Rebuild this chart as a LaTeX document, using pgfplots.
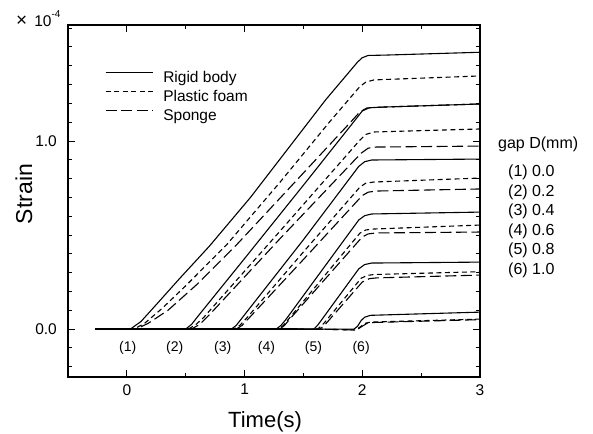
\documentclass[border=0pt]{standalone}
\usepackage{pgfplots}
\pgfplotsset{compat=1.18}
\usepackage{fontspec}
\setmainfont{Liberation Sans}
\tikzset{
  rigid/.style={black, line width=1.1bp, solid},
  foam/.style={black, line width=1.1bp, dash pattern=on 5bp off 3.5bp},
  sponge/.style={black, line width=1.1bp, dash pattern=on 11bp off 4.5bp},
}
\begin{document}
\begin{tikzpicture}
\useasboundingbox (0,0) rectangle (593bp,434bp);
\begin{axis}[
  at={(68bp,57bp)}, anchor=south west,
  scale only axis, width=412bp, height=352bp,
  xmin=-0.5, xmax=3, ymin=-0.255, ymax=1.617,
  xtick={0,1,2,3}, xticklabels={0,1,2,3},
  ytick={0,1}, yticklabels={0.0,1.0},
  minor xtick={0.5,1.5,2.5},
  minor ytick={-0.2,-0.1,0.1,0.2,0.3,0.4,0.5,0.6,0.7,0.8,0.9,1.1,1.2,1.3,1.4,1.5,1.6},
  tick align=inside, tick pos=both,
  major tick length=7bp, minor tick length=4bp,
  every tick/.style={black, line width=1bp},
  axis line style={line width=1.5bp},
  tick label style={font=\fontsize{15.5bp}{18bp}\selectfont, inner sep=0pt},
  xticklabel style={yshift=-7bp},
  yticklabel style={xshift=-11bp},
  legend style={at={(0.0898,0.872)}, anchor=north west, draw=none, fill=none,
    inner sep=0pt, row sep=3bp, column sep=10bp,
    font=\fontsize{15.5bp}{18bp}\selectfont,
    nodes={inner sep=0pt, text height=12bp, text depth=4bp}},
  legend cell align=left,
  legend image code/.code={\draw[#1] (0bp,5.5bp) -- (47bp,5.5bp);},
]
% group 1
\addplot[rigid] coordinates {(-0.27,0)(0.03,0)(0.12,0.04)(0.25,0.13)(0.45,0.27)(0.7,0.44)(1.05,0.70)(1.69,1.22)(1.96,1.42)(2.0,1.443)(2.05,1.455)(2.2,1.457)(3,1.472)};
\addlegendentry{Rigid body}
\addplot[foam] coordinates {(-0.27,0)(0.06,0)(0.15,0.03)(0.3,0.11)(0.5,0.23)(0.85,0.45)(1.3,0.78)(1.72,1.10)(1.98,1.29)(2.03,1.313)(2.1,1.325)(3,1.346)};
\addlegendentry{Plastic foam}
\addplot[sponge] coordinates {(-0.27,0)(0.08,0)(0.18,0.03)(0.35,0.1)(0.6,0.24)(0.92,0.44)(1.5,0.83)(1.9,1.10)(1.98,1.155)(2.04,1.176)(2.15,1.18)(3,1.197)};
\addlegendentry{Sponge}
% group 2
\addplot[rigid, forget plot] coordinates {(-0.27,0)(0.5,0)(0.55,0.025)(0.6,0.065)(1.0,0.375)(1.5,0.765)(1.95,1.12)(2.0,1.16)(2.06,1.177)(2.2,1.181)(3,1.197)};
\addplot[foam, forget plot] coordinates {(-0.27,0)(0.52,0)(0.58,0.02)(0.65,0.06)(1.3,0.52)(1.98,1.005)(2.03,1.035)(2.1,1.048)(3,1.064)};
\addplot[sponge, forget plot] coordinates {(-0.27,0)(0.55,0)(0.62,0.025)(0.7,0.075)(1.3,0.48)(1.99,0.935)(2.05,0.962)(2.12,0.968)(3,0.973)};
% group 3
\addplot[rigid, forget plot] coordinates {(-0.27,0)(0.89,0)(0.93,0.02)(0.98,0.06)(1.5,0.475)(1.97,0.865)(2.02,0.89)(2.08,0.899)(3,0.904)};
\addplot[foam, forget plot] coordinates {(-0.27,0)(0.91,0)(0.96,0.02)(1.02,0.06)(1.5,0.41)(1.98,0.755)(2.03,0.776)(2.1,0.782)(3,0.803)};
\addplot[sponge, forget plot] coordinates {(-0.27,0)(0.93,0)(0.98,0.02)(1.04,0.06)(1.5,0.37)(2.0,0.71)(2.05,0.728)(2.12,0.734)(3,0.745)};
% group 4
\addplot[rigid, forget plot] coordinates {(-0.27,0)(1.27,0)(1.31,0.02)(1.35,0.05)(1.97,0.58)(2.02,0.603)(2.08,0.612)(3,0.622)};
\addplot[foam, forget plot] coordinates {(-0.27,0)(1.29,0)(1.33,0.02)(1.37,0.05)(1.98,0.51)(2.03,0.527)(2.1,0.532)(3,0.553)};
\addplot[sponge, forget plot] coordinates {(-0.27,0)(1.30,0)(1.34,0.02)(1.38,0.05)(2.0,0.49)(2.05,0.506)(2.12,0.511)(3,0.516)};
% group 5
\addplot[rigid, forget plot] coordinates {(-0.27,0)(1.59,0)(1.62,0.02)(1.65,0.045)(1.97,0.32)(2.02,0.343)(2.08,0.351)(3,0.356)};
\addplot[foam, forget plot] coordinates {(-0.27,0)(1.62,0)(1.65,0.015)(1.68,0.035)(1.99,0.27)(2.04,0.285)(2.1,0.29)(3,0.305)};
\addplot[sponge, forget plot] coordinates {(-0.27,0)(1.64,0)(1.67,0.015)(1.70,0.035)(2.0,0.25)(2.06,0.268)(2.12,0.272)(3,0.287)};
% group 6
\addplot[rigid, forget plot] coordinates {(-0.27,0)(1.93,0)(1.96,0.015)(1.99,0.045)(2.02,0.063)(2.07,0.073)(3,0.09)};
\addplot[foam, forget plot] coordinates {(-0.27,0)(1.6,0)(1.94,-0.005)(1.98,0.01)(2.02,0.03)(2.07,0.037)(3,0.053)};
\addplot[sponge, forget plot] coordinates {(-0.27,0)(1.6,0)(1.95,-0.005)(2.0,0.015)(2.04,0.03)(2.1,0.035)(3,0.05)};
% overlapping noisy baselines
\addplot[black, line width=2.8bp, forget plot] coordinates {(-0.27,0)(1.45,0)};
% curve labels
\node[anchor=base, font=\fontsize{14bp}{16bp}\selectfont, inner sep=0pt] at (axis cs:0.008,-0.122) {(1)};
\node[anchor=base, font=\fontsize{14bp}{16bp}\selectfont, inner sep=0pt] at (axis cs:0.407,-0.122) {(2)};
\node[anchor=base, font=\fontsize{14bp}{16bp}\selectfont, inner sep=0pt] at (axis cs:0.814,-0.122) {(3)};
\node[anchor=base, font=\fontsize{14bp}{16bp}\selectfont, inner sep=0pt] at (axis cs:1.186,-0.122) {(4)};
\node[anchor=base, font=\fontsize{14bp}{16bp}\selectfont, inner sep=0pt] at (axis cs:1.585,-0.122) {(5)};
\node[anchor=base, font=\fontsize{14bp}{16bp}\selectfont, inner sep=0pt] at (axis cs:1.99,-0.122) {(6)};
\end{axis}
\node[anchor=base, rotate=90, font=\fontsize{23bp}{26bp}\selectfont, inner sep=0pt] at (32bp,240bp) {Strain};
\node[anchor=base west, font=\fontsize{22bp}{26bp}\selectfont, inner sep=0pt] at (228bp,7bp) {Time(s)};
\node[anchor=base west, font=\fontsize{15.5bp}{18bp}\selectfont, inner sep=0pt] at (16bp,407bp) {{\fontsize{19bp}{20bp}\selectfont ×}\hspace{7bp}10\raisebox{9bp}{\fontsize{10bp}{11bp}\selectfont -4}};
\node[anchor=base west, font=\fontsize{16bp}{19bp}\selectfont, inner sep=0pt] at (498bp,285bp) {gap D(mm)};
\node[anchor=base west, font=\fontsize{16bp}{19bp}\selectfont, inner sep=0pt] at (508bp,257bp) {(1) 0.0};
\node[anchor=base west, font=\fontsize{16bp}{19bp}\selectfont, inner sep=0pt] at (508bp,237.5bp) {(2) 0.2};
\node[anchor=base west, font=\fontsize{16bp}{19bp}\selectfont, inner sep=0pt] at (508bp,218bp) {(3) 0.4};
\node[anchor=base west, font=\fontsize{16bp}{19bp}\selectfont, inner sep=0pt] at (508bp,198.5bp) {(4) 0.6};
\node[anchor=base west, font=\fontsize{16bp}{19bp}\selectfont, inner sep=0pt] at (508bp,179bp) {(5) 0.8};
\node[anchor=base west, font=\fontsize{16bp}{19bp}\selectfont, inner sep=0pt] at (508bp,159.5bp) {(6) 1.0};
\end{tikzpicture}
\end{document}
